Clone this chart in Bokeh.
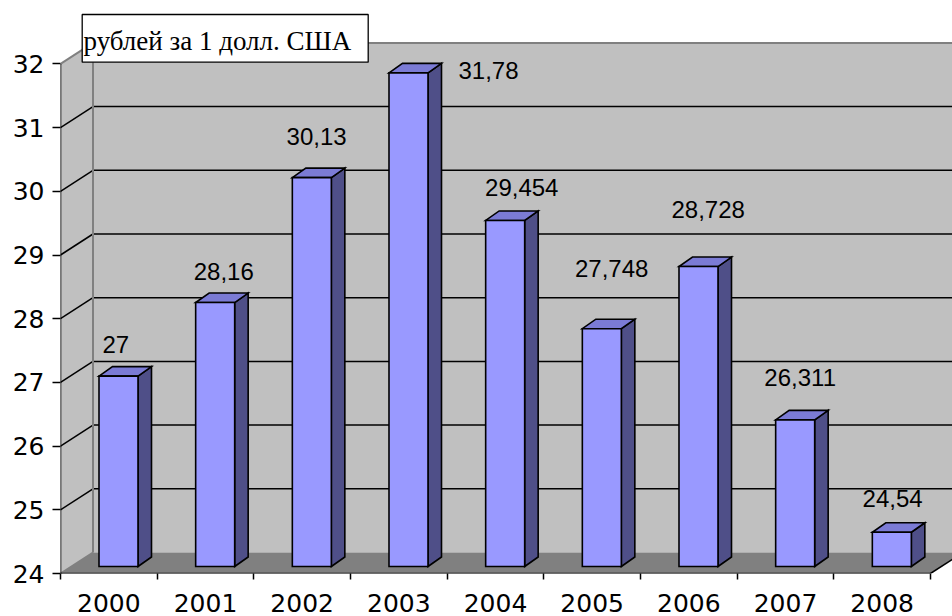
from bokeh.plotting import figure
from bokeh.models import Range1d, FixedTicker
from bokeh.embed import file_html
from bokeh.resources import INLINE
from bokeh.core.properties import value

# ---------------- data ----------------
years = ["2000", "2001", "2002", "2003", "2004", "2005", "2006", "2007", "2008"]
rates = [27, 28.16, 30.13, 31.78, 29.454, 27.748, 28.728, 26.311, 24.54]
y_ticks = [24, 25, 26, 27, 28, 29, 30, 31, 32]
unit_label = "рублей за 1 долл. США"

# ---------------- layout (pixels) ----------------
W, H = 952, 616
FL, FB = 60, 43                 # frame left / bottom borders
PX_X = 870 / 9                  # px per category
PX_Y = 63.7                     # px per rouble
frame_w, frame_h = W - FL, H - FB
Y0 = y_ticks[0]
YTOP = y_ticks[-1]
x_end = frame_w / PX_X
y_end = Y0 + frame_h / PX_Y

def px_x(d):   # pixel offset -> data units (x)
    return d / PX_X

def px_y(d):   # pixel offset -> data units (y)
    return d / PX_Y

BX, BY = px_x(32.5), px_y(21)           # back-wall depth
DX, DY = px_x(13.5), px_y(9.5)          # bar depth
BAR_OFF, BAR_W = px_x(38.5), px_x(39)   # bar front face within category
B0, K = px_y(7), 0.996                  # bar baseline lift / scale

# label offsets from bar front-top centre, in pixels (right, up)
label_dx = [-2.7, 8.6, 4.8, 80, 16.6, 9.8, 9.7, 5, 0.8]
label_dy = [31.7, 31, 40.7, 2.7, 33, 60.3, 57, 42.7, 33.8]

n = len(years)

p = figure(width=W, height=H, x_range=Range1d(0, x_end), y_range=Range1d(Y0, y_end),
           output_backend="svg", toolbar_location=None,
           min_border_left=FL, min_border_right=0, min_border_top=0, min_border_bottom=FB)
p.outline_line_color = None
p.xgrid.grid_line_color = None
p.ygrid.grid_line_color = None
p.background_fill_color = "white"
p.border_fill_color = "white"

WALL = "#c0c0c0"
FLOOR = "#808080"
EDGE = "#808080"

# walls and floor
p.patch([0, BX, BX, 0], [Y0, Y0 + BY, YTOP + BY, YTOP], fill_color=WALL, line_color=None)
p.quad(left=[BX], right=[x_end + 1], bottom=[Y0 + BY], top=[YTOP + BY], fill_color=WALL, line_color=None)
p.patch([0, n, n + BX, BX], [Y0, Y0, Y0 + BY, Y0 + BY], fill_color=FLOOR, line_color=None)

# gridlines
inner = y_ticks[1:-1]
p.segment(x0=[BX] * len(inner), y0=[v + BY for v in inner], x1=[x_end] * len(inner),
          y1=[v + BY for v in inner], line_color="black", line_width=1.5)
p.segment(x0=[0] * len(inner), y0=inner, x1=[BX] * len(inner),
          y1=[v + BY for v in inner], line_color="black", line_width=1.5)

# wall edges
p.segment(x0=[BX, 0, BX, 0], y0=[YTOP + BY, YTOP, Y0 + BY, Y0],
          x1=[x_end, BX, BX, BX], y1=[YTOP + BY, YTOP + BY, YTOP + BY, Y0 + BY],
          line_color=EDGE, line_width=2)

# axis lines
p.segment(x0=[0, 0, n], y0=[Y0, Y0, Y0], x1=[0, n, n + BX], y1=[YTOP, Y0, Y0 + BY],
          line_color="black", line_width=1.6)

# bars
xl = [i + BAR_OFF for i in range(n)]
xr = [x + BAR_W for x in xl]
yb = Y0 + B0
yt = [Y0 + B0 + (v - Y0) * K for v in rates]

side_xs = [[r, r + DX, r + DX, r] for r in xr]
side_ys = [[yb, yb + DY, t + DY, t] for t in yt]
top_xs = [[l, r, r + DX, l + DX] for l, r in zip(xl, xr)]
top_ys = [[t, t, t + DY, t + DY] for t in yt]

p.patches(side_xs, side_ys, fill_color="#4f4f88", line_color="black", line_width=1.6, line_join="miter")
p.patches(top_xs, top_ys, fill_color="#7b7bd5", line_color="black", line_width=1.6, line_join="miter")
p.quad(left=xl, right=xr, bottom=[yb] * n, top=yt, fill_color="#9999ff",
       line_color="black", line_width=1.6, line_join="miter")

# value labels
lab_x = [(l + r) / 2 + px_x(dx) for l, r, dx in zip(xl, xr, label_dx)]
lab_y = [t + px_y(dy) for t, dy in zip(yt, label_dy)]
lab_t = [f"{v:g}".replace(".", ",") for v in rates]
p.text(x=lab_x, y=lab_y, text=lab_t, text_font=value("Liberation Sans"), text_font_size="24px",
       text_align="center", text_baseline="middle", text_color="black")

# unit caption box
def cx(px):
    return (px - FL) / PX_X

def cy(py):
    return Y0 + (frame_h - py) / PX_Y

p.quad(left=[cx(81.7)], right=[cx(367.7)], top=[cy(14)], bottom=[cy(61.7)],
       fill_color="white", line_color="black", line_width=1.3)
p.text(x=[cx(83)], y=[cy(40.5)], text=[unit_label], text_font=value("Liberation Serif"),
       text_font_size="27px", text_align="left", text_baseline="middle", text_color="black")

# x axis: labels at category centres, ticks at boundaries
xa = p.xaxis[0]
centers = [i + 0.5 for i in range(n)]
xa.ticker = FixedTicker(ticks=centers, minor_ticks=list(range(n + 1)))
xa.major_label_overrides = {c: y for c, y in zip(centers, years)}
xa.axis_line_color = None
xa.major_tick_line_color = None
xa.major_tick_out = 6
xa.major_tick_in = 0
xa.minor_tick_line_color = "black"
xa.minor_tick_line_width = 1.5
xa.minor_tick_out = 6
xa.minor_tick_in = 0
xa.major_label_text_font = "DejaVu Sans"
xa.major_label_text_font_size = "25px"
xa.major_label_text_color = "black"
xa.major_label_standoff = 14

ya = p.yaxis[0]
ya.ticker = FixedTicker(ticks=y_ticks)
ya.axis_line_color = None
ya.major_tick_line_color = "black"
ya.major_tick_line_width = 1.5
ya.major_tick_out = 8
ya.major_tick_in = 0
ya.minor_tick_line_color = None
ya.major_label_text_font = "DejaVu Sans"
ya.major_label_text_font_size = "25px"
ya.major_label_text_color = "black"
ya.major_label_standoff = 8

open("out.html", "w").write(file_html(p, INLINE))
